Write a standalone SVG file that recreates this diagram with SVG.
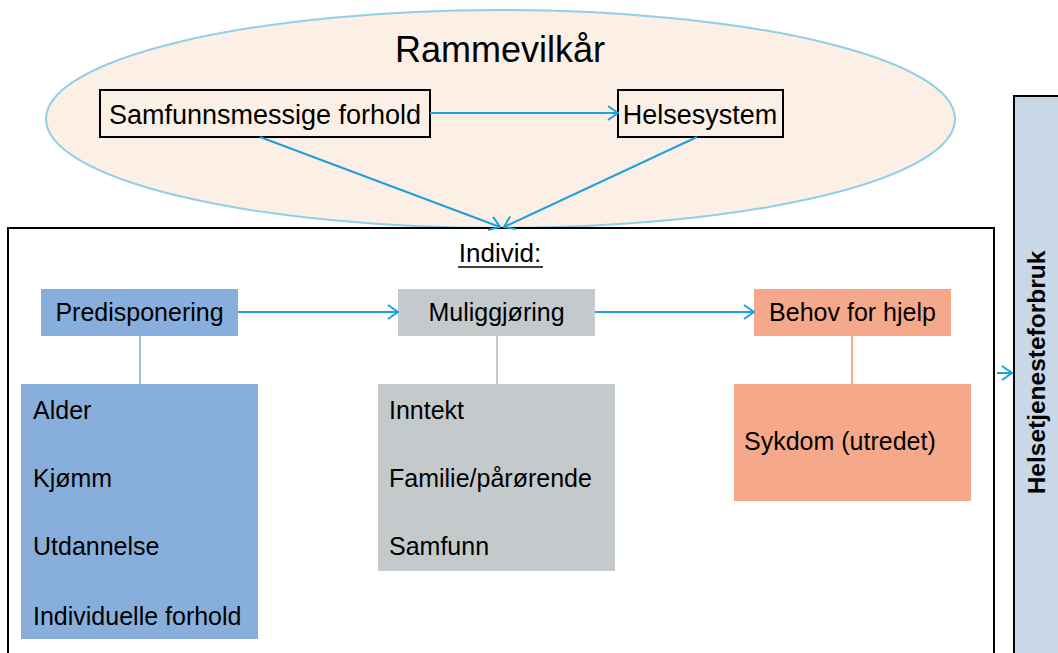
<svg xmlns="http://www.w3.org/2000/svg" width="1058" height="653" viewBox="0 0 1058 653">
<defs>
<style>
text{font-family:"Liberation Sans",Arial,Helvetica,sans-serif;fill:#000}
.lbl{font-size:25px}
.top{font-size:27px}
.conn{stroke:#1ea0dc;stroke-width:2;fill:none}
.box{stroke:#000;stroke-width:2}
</style>
<marker id="arr" viewBox="0 0 12 16" refX="11" refY="8" markerWidth="12" markerHeight="16" markerUnits="userSpaceOnUse" orient="auto">
<path d="M1,1 L11,8 L1,15" fill="none" stroke="#1ea0dc" stroke-width="2"/>
</marker>
</defs>
<rect width="1058" height="653" fill="#fff"/>
<g id="rammevilkar">
<ellipse cx="500.5" cy="119" rx="454.5" ry="109" fill="#fcefe5" stroke="#8fcfe8" stroke-width="2"/>
<text x="500" y="62" font-size="36" text-anchor="middle">Rammevilkår</text>
</g>
<g id="individ">
<rect x="8" y="228" width="986" height="440" fill="#fff" class="box"/>
<text x="500" y="262" font-size="26" text-anchor="middle">Individ:</text>
<line x1="458" y1="267" x2="543" y2="267" stroke="#000" stroke-width="1.5"/>
</g>
<g id="samfunn">
<rect x="100" y="90" width="330" height="47" fill="#fcefe5" class="box"/>
<text x="265" y="124" class="top" text-anchor="middle">Samfunnsmessige forhold</text>
</g>
<g id="helsesystem">
<rect x="618" y="90" width="165" height="47" fill="#fcefe5" class="box"/>
<text x="700" y="124" class="top" text-anchor="middle">Helsesystem</text>
</g>
<g id="helsetjenesteforbruk">
<rect x="1014" y="96" width="60" height="580" fill="#c8d8e6" class="box"/>
<text transform="translate(1045,372.5) rotate(-90)" font-size="24.5" font-weight="bold" text-anchor="middle">Helsetjenesteforbruk</text>
</g>
<g id="predisponering">
<rect x="41" y="289" width="197" height="47" fill="#88afdb"/>
<text x="139.5" y="321" class="lbl" text-anchor="middle">Predisponering</text>
</g>
<g id="muliggjoring">
<rect x="398" y="289" width="197" height="47" fill="#c4c9cc"/>
<text x="496.5" y="321" class="lbl" text-anchor="middle">Muliggjøring</text>
</g>
<g id="behov">
<rect x="754" y="289" width="197" height="47" fill="#f6a98a"/>
<text x="852.5" y="321" class="lbl" text-anchor="middle">Behov for hjelp</text>
</g>
<g id="predisponering-liste">
<rect x="21" y="384" width="237" height="255" fill="#88afdb"/>
<text x="33" y="419" class="lbl">Alder</text>
<text x="33" y="487" class="lbl">Kjømm</text>
<text x="33" y="555" class="lbl">Utdannelse</text>
<text x="33" y="625" class="lbl">Individuelle forhold</text>
</g>
<g id="muliggjoring-liste">
<rect x="378" y="384" width="237" height="187" fill="#c4c9cc"/>
<text x="389" y="419" class="lbl">Inntekt</text>
<text x="389" y="487" class="lbl">Familie/pårørende</text>
<text x="389" y="555" class="lbl">Samfunn</text>
</g>
<g id="sykdom">
<rect x="734" y="384" width="237" height="117" fill="#f6a98a"/>
<text x="744" y="450" class="lbl">Sykdom (utredet)</text>
</g>
<g id="connectors">
<line class="conn" x1="430" y1="113" x2="618" y2="113" marker-end="url(#arr)"/>
<line class="conn" x1="260" y1="137" x2="500" y2="227" marker-end="url(#arr)"/>
<line class="conn" x1="697" y1="137" x2="504" y2="227" marker-end="url(#arr)"/>
<line class="conn" x1="238" y1="312" x2="398" y2="312" marker-end="url(#arr)"/>
<line class="conn" x1="595" y1="312" x2="754" y2="312" marker-end="url(#arr)"/>
<line class="conn" x1="997" y1="373" x2="1012" y2="373" marker-end="url(#arr)"/>
<line x1="140" y1="336" x2="140" y2="384" stroke="#9dbde6" stroke-width="2"/>
<line x1="497" y1="336" x2="497" y2="384" stroke="#c4c9cc" stroke-width="2"/>
<line x1="852" y1="336" x2="852" y2="384" stroke="#f6a98a" stroke-width="2"/>
</g>
</svg>
